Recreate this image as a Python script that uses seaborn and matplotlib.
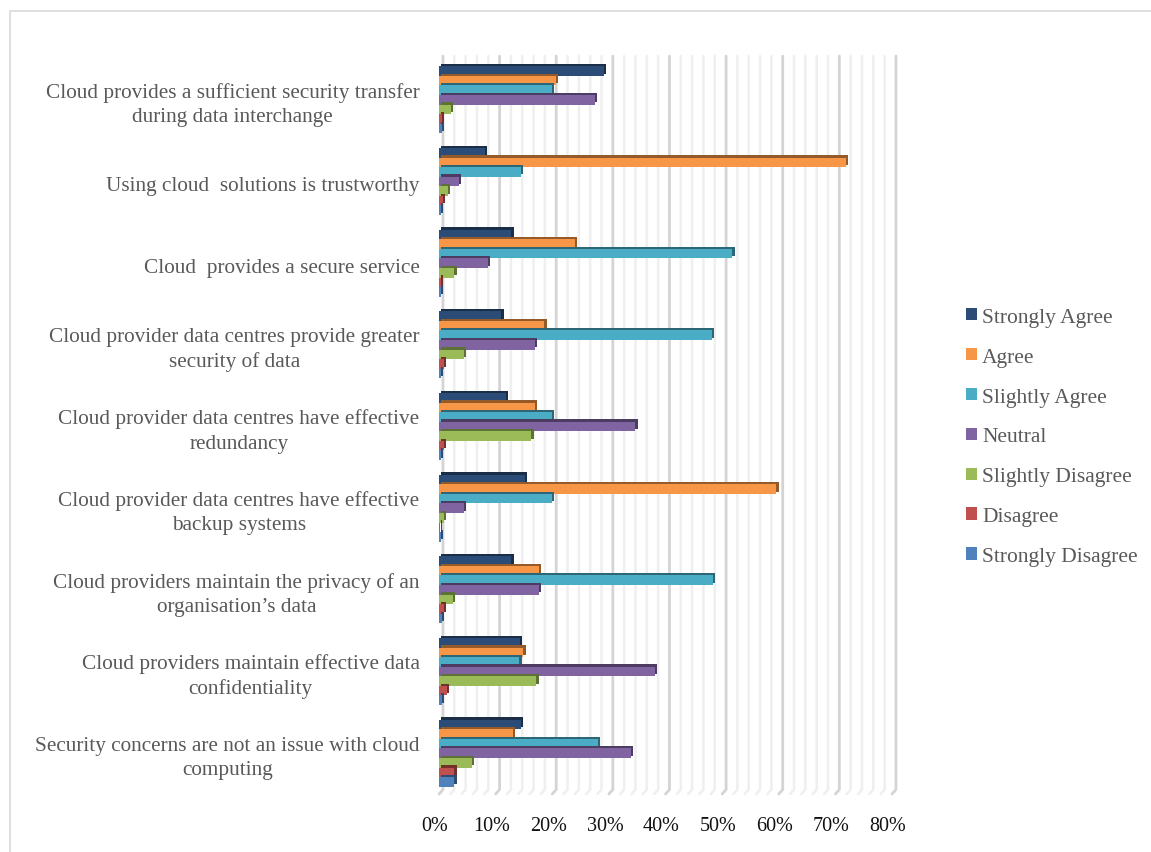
import matplotlib
matplotlib.use("Agg")
import matplotlib.pyplot as plt
import matplotlib.transforms as mtransforms
import numpy as np
import pandas as pd
import seaborn as sns
from matplotlib import patheffects as pe
from matplotlib.patches import Rectangle, Patch
from matplotlib.ticker import FuncFormatter

statements = [
    "Cloud provides a sufficient security transfer\nduring data interchange",
    "Using cloud  solutions is trustworthy",
    "Cloud  provides a secure service",
    "Cloud provider data centres provide greater\nsecurity of data",
    "Cloud provider data centres have effective\nredundancy",
    "Cloud provider data centres have effective\nbackup systems",
    "Cloud providers maintain the privacy of an\norganisation\u2019s data",
    "Cloud providers maintain effective data\nconfidentiality",
    "Security concerns are not an issue with cloud\ncomputing",
]
responses = ["Strongly Agree", "Agree", "Slightly Agree", "Neutral",
             "Slightly Disagree", "Disagree", "Strongly Disagree"]

# percentage of respondents per statement
strongly_agree = [29.1, 8.1, 12.8, 11.0, 11.8, 15.1, 12.8, 14.3, 14.5]
agree = [20.6, 71.8, 24.0, 18.6, 16.9, 59.6, 17.7, 14.9, 13.0]
slightly_agree = [19.9, 14.4, 51.8, 48.2, 19.9, 20.0, 48.4, 14.2, 28.0]
neutral = [27.5, 3.5, 8.6, 16.9, 34.7, 4.4, 17.7, 38.1, 33.9]
slightly_disagree = [2.1, 1.6, 2.7, 4.4, 16.3, 0.9, 2.5, 17.2, 5.8]
disagree = [0.5, 0.7, 0.4, 0.9, 0.8, 0.2, 0.8, 1.4, 2.7]
strongly_disagree = [0.5, 0.4, 0.4, 0.4, 0.4, 0.4, 0.5, 0.5, 2.7]

x_ticks = [0, 10, 20, 30, 40, 50, 60, 70, 80]

colors = ["#2B4C76", "#F79646", "#4BACC6", "#8064A2",
          "#9BBB59", "#C0504D", "#4F81BD"]

series = [strongly_agree, agree, slightly_agree, neutral,
          slightly_disagree, disagree, strongly_disagree]
df = pd.DataFrame({
    "statement": np.repeat([statements], len(responses), axis=0).ravel(),
    "response": np.repeat(responses, len(statements)),
    "pct": np.concatenate(series),
})

sns.set_style("white")
plt.rcParams["font.family"] = ["Liberation Serif", "DejaVu Serif"]

W, H = 1151, 853
fig = plt.figure(figsize=(W / 100, H / 100), dpi=100)
ax = fig.add_axes([439 / W, 1 - 795 / H, 453 / W, 735 / H])

# back-wall gridlines with a small perspective floor segment
depth = 0.7
for v in np.arange(0, 81, 2):
    major = v % 10 == 0
    ax.plot([v, v + depth, v + depth], [0, 0.006, 1.004],
            transform=ax.get_xaxis_transform(), clip_on=False,
            color="#D4D4D4" if major else "#EFEFEF",
            lw=2.0 if major else 1.8, zorder=0)

sns.barplot(data=df, y="statement", x="pct", hue="response",
            order=statements, hue_order=responses, palette=colors,
            width=0.82, saturation=1, errorbar=None, legend=False,
            orient="h", ax=ax, zorder=2)

for bar in ax.patches:
    bar.set_linewidth(0)
    bar.set_path_effects([
        pe.SimplePatchShadow(offset=(1.6, 1.6), shadow_rgbFace=None,
                             alpha=1.0, rho=0.6),
        pe.Normal(),
    ])

ax.set_xlim(0, 80)
ax.set_ylim(len(statements) - 0.5, -0.5)
ax.set_xticks(x_ticks)
ax.xaxis.set_major_formatter(FuncFormatter(lambda v, _: f"{v:.0f}%"))
ax.set_xlabel("")
ax.set_ylabel("")
ax.grid(False)
for s in ax.spines.values():
    s.set_visible(False)
ax.tick_params(axis="x", length=0, pad=16, labelsize=14.5, labelcolor="#111111")
ax.tick_params(axis="y", length=0, pad=14, labelsize=15.3, labelcolor="#595959")
yshift = mtransforms.ScaledTranslation(0, -4 / 100, fig.dpi_scale_trans)
for lab in ax.get_yticklabels():
    lab.set_multialignment("center")
    lab.set_va("center")
    lab.set_linespacing(1.38)
    lab.set_transform(lab.get_transform() + yshift)
xshift = mtransforms.ScaledTranslation(-4 / 100, 0, fig.dpi_scale_trans)
for lab in ax.get_xticklabels():
    lab.set_transform(lab.get_transform() + xshift)

handles = [Patch(facecolor=c, edgecolor="none") for c in colors]
fig.legend(handles, responses, loc="center left",
           bbox_to_anchor=(966 / W, 1 - 438 / H), frameon=False,
           fontsize=15.5, labelcolor="#595959", handlelength=0.5,
           handleheight=0.5, handletextpad=0.25, labelspacing=0.97,
           borderpad=0, borderaxespad=0)

# light frame around the chart area
fig.patches.append(Rectangle((10 / W, -0.1), 1.2, 1 - 12 / H + 0.1,
                             transform=fig.transFigure, fill=False,
                             edgecolor="#D9D9D9", lw=1.2))

fig.savefig("out.png", dpi=100)
